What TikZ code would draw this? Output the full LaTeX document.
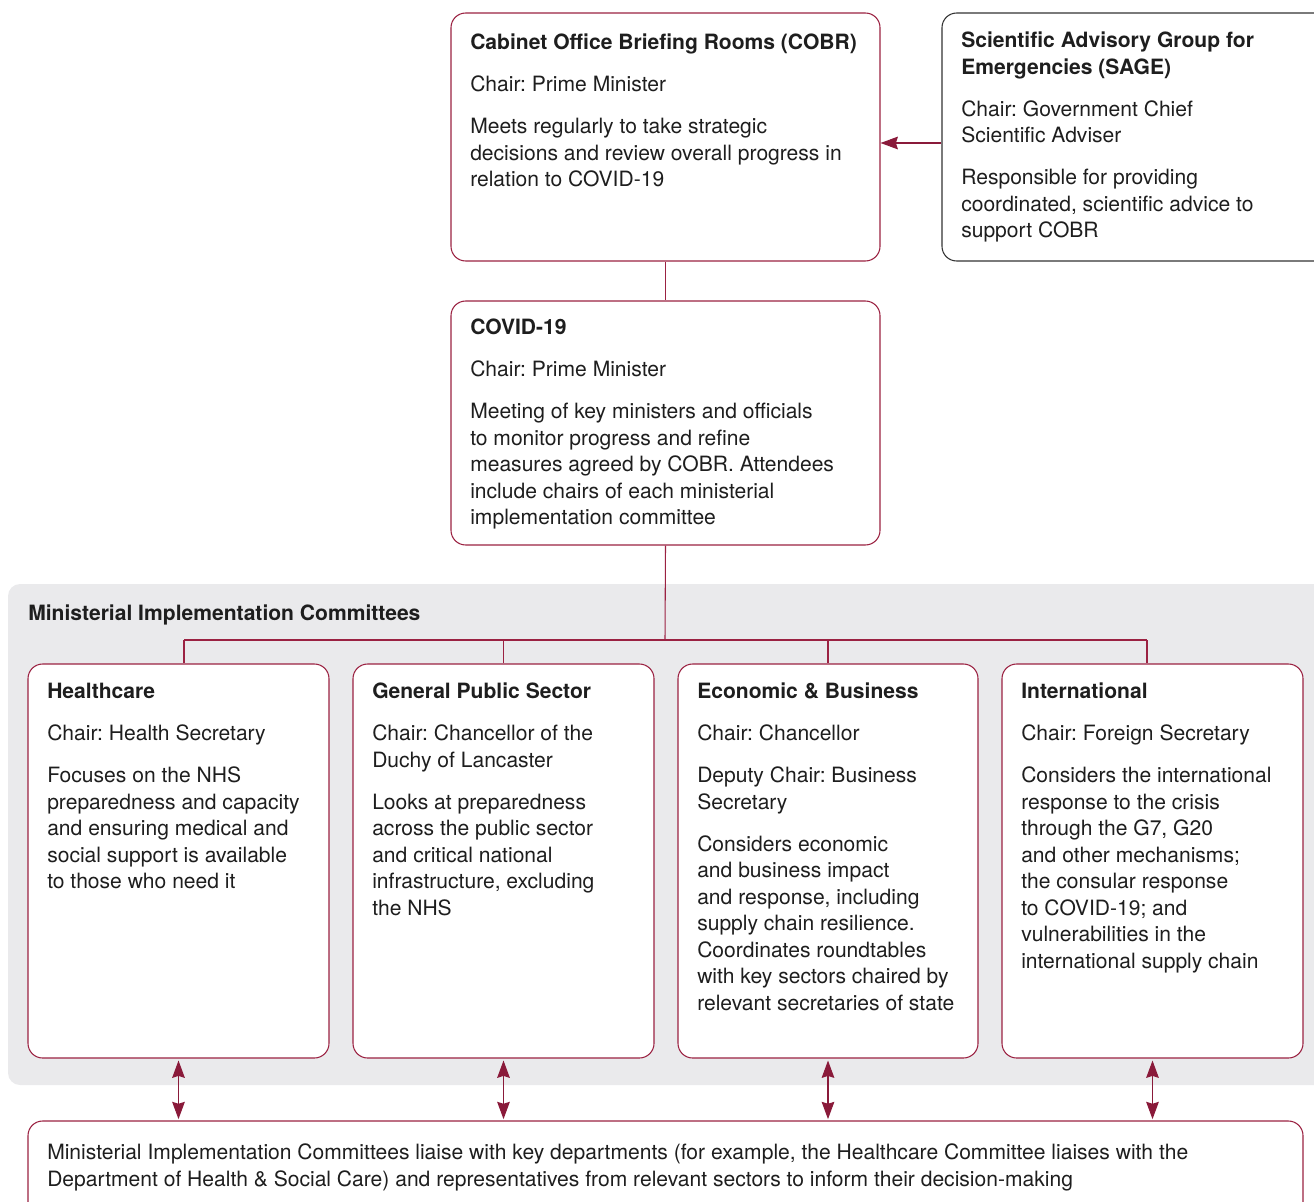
\documentclass[tikz,border=0pt]{standalone}
\usepackage{fontspec}
\setmainfont{TeX Gyre Heros}
\usetikzlibrary{fit,arrows.meta}
\definecolor{maroon}{HTML}{9B2242}
\definecolor{arrowred}{HTML}{8A1A3A}
\definecolor{band}{HTML}{EAEAEC}
\definecolor{ink}{HTML}{1E1E1E}
\definecolor{sageline}{HTML}{333333}
\newcommand{\fst}{\rule{0pt}{12pt}}
\newcommand{\pg}{\\[11.6pt]}
\frenchspacing
\tikzset{
  box/.style={draw=maroon,line width=0.8pt,rounded corners=11pt,fill=white,inner sep=0pt},
  sagebox/.style={draw=sageline,line width=0.8pt,rounded corners=11pt,fill=white,inner sep=0pt},
  bandbox/.style={fill=band,rounded corners=9pt,inner sep=0pt},
  txt/.style={anchor=north west,inner sep=0pt,align=left,text=ink,font=\frenchspacing\fontsize{15.8}{19.875}\selectfont},
  conn/.style={draw=maroon,line width=0.8pt},
  tip/.style={Stealth[length=13pt,width=9.5pt,inset=1.5pt]},
  arr/.style={draw=arrowred,line width=0.8pt,-{Stealth[length=13pt,width=9.5pt,inset=1.5pt]}},
  darr/.style={draw=arrowred,line width=0.8pt,{Stealth[length=13pt,width=9.5pt,inset=1.5pt]}-{Stealth[length=13pt,width=9.5pt,inset=1.5pt]}},
}
\begin{document}
\begin{tikzpicture}[x=0.75pt,y=-0.75pt]
\useasboundingbox (0,0) rectangle (1314,1202);
\clip (0,0) rectangle (1314,1202);
% grey band
\node[bandbox,fit={(8,584) (1340,1085)}] (band) {};
% top boxes
\node[box,fit={(451,13) (880,261)}] (cobr) {};
\node[sagebox,fit={(942,13) (1340,261)}] (sage) {};
\node[box,fit={(451,301) (880,545)}] (covid) {};
% committees
\node[box,fit={(28,664) (329,1058)}] (hc) {};
\node[box,fit={(353,664) (654,1058)}] (gps) {};
\node[box,fit={(678,664) (978,1058)}] (eco) {};
\node[box,fit={(1002,664) (1303,1058)}] (intl) {};
\node[box,fit={(28,1121) (1303,1240)}] (liaise) {};

% texts
\node[txt] (cobrt) at (470,33.5) {\fst\textbf{Cabinet Office Briefing Rooms (COBR)}\pg
Chair: Prime Minister\pg
Meets regularly to take strategic\\
decisions and review overall progress in\\
relation to COVID-19};
\node[txt] (saget) at (961,31.5) {\fst\textbf{Scientific Advisory Group for}\\
\textbf{Emergencies (SAGE)}\pg
Chair: Government Chief\\
Scientific Adviser\pg
Responsible for providing\\
coordinated, scientific advice to\\
support COBR};
\node[txt] (covidt) at (470,318.5) {\fst\textbf{COVID-19}\pg
Chair: Prime Minister\pg
Meeting of key ministers and officials\\
to monitor progress and refine\\
measures agreed by COBR. Attendees\\
include chairs of each ministerial\\
implementation committee};
\node[txt] (bandt) at (28,604.5) {\fst\textbf{Ministerial Implementation Committees}};
\node[txt] (hct) at (47,682.5) {\fst\textbf{Healthcare}\pg
Chair: Health Secretary\pg
Focuses on the NHS\\
preparedness and capacity\\
and ensuring medical and\\
social support is available\\
to those who need it};
\node[txt] (gpst) at (372,682.5) {\fst\textbf{General Public Sector}\pg
Chair: Chancellor of the\\
Duchy of Lancaster\pg
Looks at preparedness\\
across the public sector\\
and critical national\\
infrastructure, excluding\\
the NHS};
\node[txt] (ecot) at (697,682.5) {\fst\textbf{Economic \& Business}\pg
Chair: Chancellor\pg
Deputy Chair: Business\\
Secretary\pg
Considers economic\\
and business impact\\
and response, including\\
supply chain resilience.\\
Coordinates roundtables\\
with key sectors chaired by\\
relevant secretaries of state};
\node[txt] (intlt) at (1021,682.5) {\fst\textbf{International}\pg
Chair: Foreign Secretary\pg
Considers the international\\
response to the crisis\\
through the G7, G20\\
and other mechanisms;\\
the consular response\\
to COVID-19; and\\
vulnerabilities in the\\
international supply chain};
\node[txt] (liaiset) at (47,1143.5) {\fst Ministerial Implementation Committees liaise with key departments (for example, the Healthcare Committee liaises with the\\
Department of Health \& Social Care) and representatives from relevant sectors to inform their decision-making};

% connectors
\coordinate (j) at (665,640);
\coordinate (t1) at (184,640);
\coordinate (t4) at (1147,640);
\draw[conn] (cobr.south) -- (covid.north);
\draw[conn] (covid.south) -- (j);
\draw[conn] (t1) -- (t4);
\draw[conn] (t1) -- (t1 |- hc.north);
\draw[conn] (gps.north |- j) -- (gps.north);
\draw[conn] (eco.north |- j) -- (eco.north);
\draw[conn] (t4) -- (t4 |- intl.north);
\draw[arr] (sage.west |- 0,143) -- (cobr.east |- 0,143);
\draw[darr,shorten <=1.5pt,shorten >=1pt] (hc.south) -- (hc.south |- liaise.north);
\draw[darr,shorten <=1.5pt,shorten >=1pt] (gps.south) -- (gps.south |- liaise.north);
\draw[darr,shorten <=1.5pt,shorten >=1pt] (eco.south) -- (eco.south |- liaise.north);
\draw[darr,shorten <=1.5pt,shorten >=1pt] (intl.south) -- (intl.south |- liaise.north);
\end{tikzpicture}
\end{document}
